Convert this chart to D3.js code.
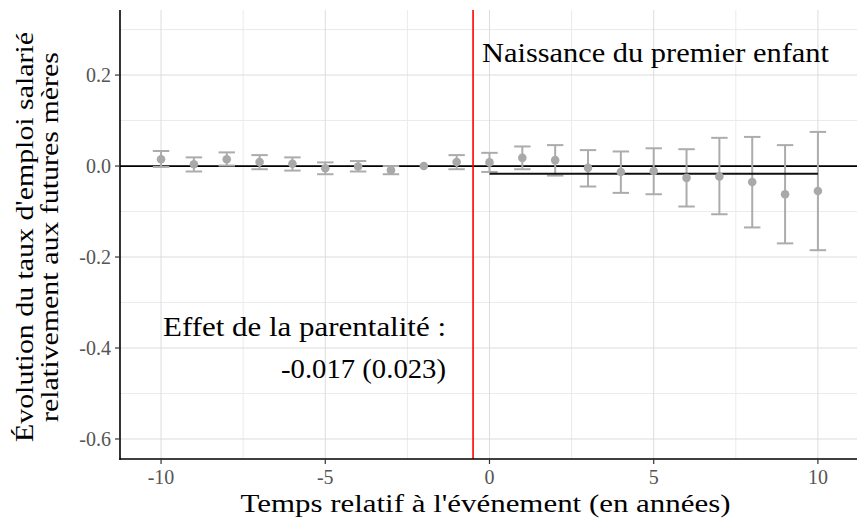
<!DOCTYPE html>
<html><head><meta charset="utf-8">
<script src="https://cdn.jsdelivr.net/npm/d3@7"></script>
<style>body{margin:0;background:#fff}text{font-family:"Liberation Serif",serif}</style>
</head><body>
<svg id="c" width="858" height="519"></svg>
<script>
const years    = [-10, -9, -8, -7, -6, -5, -4, -3, -2, -1, 0, 1, 2, 3, 4, 5, 6, 7, 8, 9, 10];
const estimate = [0.015, 0.004, 0.015, 0.009, 0.005, -0.005, -0.001, -0.009, 0, 0.009, 0.008, 0.018, 0.013, -0.004, -0.013, -0.011, -0.026, -0.023, -0.035, -0.062, -0.055];
const upperCI  = [0.033, 0.019, 0.030, 0.024, 0.019, 0.008, 0.011, 0.000, null, 0.024, 0.029, 0.043, 0.046, 0.035, 0.032, 0.039, 0.037, 0.062, 0.064, 0.046, 0.075];
const lowerCI  = [-0.002, -0.012, 0.001, -0.007, -0.010, -0.018, -0.012, -0.018, null, -0.007, -0.013, -0.007, -0.021, -0.045, -0.059, -0.062, -0.089, -0.106, -0.135, -0.170, -0.185];
const effect = -0.017, effectSE = 0.023;
const eventTime = -0.5;
const xTicks = [-10, -5, 0, 5, 10];
const xMinor = [-7.5, -2.5, 2.5, 7.5];
const yTicks = [0.2, 0, -0.2, -0.4, -0.6];
const yMinor = [0.3, 0.1, -0.1, -0.3, -0.5];

const svg = d3.select("#c");
const L = 120, R = 857, T = 10, B = 459;
const x = d3.scaleLinear().domain([-11.25, 11.19]).range([L, R]);
const y = d3.scaleLinear().domain([-0.644, 0.343]).range([B, T]);
const fmt = v => String(v).replace("\u2212", "-");

const g = svg.append("g");
g.selectAll(".gxm").data(xMinor).join("line").attr("x1", d => x(d)).attr("x2", d => x(d)).attr("y1", T).attr("y2", B).attr("stroke", "#ebebeb").attr("stroke-width", 1);
g.selectAll(".gym").data(yMinor).join("line").attr("y1", d => y(d)).attr("y2", d => y(d)).attr("x1", L).attr("x2", R).attr("stroke", "#ebebeb").attr("stroke-width", 1);
g.selectAll(".gx").data(xTicks).join("line").attr("x1", d => x(d)).attr("x2", d => x(d)).attr("y1", T).attr("y2", B).attr("stroke", "#dcdcdc").attr("stroke-width", 1);
g.selectAll(".gy").data(yTicks).join("line").attr("y1", d => y(d)).attr("y2", d => y(d)).attr("x1", L).attr("x2", R).attr("stroke", "#dcdcdc").attr("stroke-width", 1);

g.append("line").attr("x1", L).attr("x2", R).attr("y1", y(0)).attr("y2", y(0)).attr("stroke", "#000").attr("stroke-width", 1.8);

const data = years.map((yr, i) => ({yr, e: estimate[i], lo: lowerCI[i], hi: upperCI[i]}));
const eb = data.filter(d => d.lo !== null);
const col = "#acacac";
const cw = 0.25;
g.selectAll(".ebv").data(eb).join("line").attr("x1", d => x(d.yr)).attr("x2", d => x(d.yr)).attr("y1", d => y(d.lo)).attr("y2", d => y(d.hi)).attr("stroke", col).attr("stroke-width", 2);
g.selectAll(".ebt").data(eb).join("line").attr("x1", d => x(d.yr - cw)).attr("x2", d => x(d.yr + cw)).attr("y1", d => y(d.hi)).attr("y2", d => y(d.hi)).attr("stroke", col).attr("stroke-width", 2);
g.selectAll(".ebb").data(eb).join("line").attr("x1", d => x(d.yr - cw)).attr("x2", d => x(d.yr + cw)).attr("y1", d => y(d.lo)).attr("y2", d => y(d.lo)).attr("stroke", col).attr("stroke-width", 2);

g.append("line").attr("x1", x(0)).attr("x2", x(10)).attr("y1", y(effect)).attr("y2", y(effect)).attr("stroke", "#111").attr("stroke-width", 1.8);

g.selectAll(".pt").data(data).join("circle").attr("cx", d => x(d.yr)).attr("cy", d => y(d.e)).attr("r", 4.3).attr("fill", "#a9a9a9");

g.append("line").attr("x1", x(eventTime)).attr("x2", x(eventTime)).attr("y1", T).attr("y2", B).attr("stroke", "#ff0000").attr("stroke-width", 1.6);

svg.append("line").attr("x1", L).attr("x2", L).attr("y1", T).attr("y2", B + 0.8).attr("stroke", "#000").attr("stroke-width", 1.6);
svg.append("line").attr("x1", L - 0.8).attr("x2", R).attr("y1", B).attr("y2", B).attr("stroke", "#000").attr("stroke-width", 1.6);
svg.selectAll(".ytk").data(yTicks).join("line").attr("x1", L - 5).attr("x2", L).attr("y1", d => y(d)).attr("y2", d => y(d)).attr("stroke", "#333").attr("stroke-width", 1.2);
svg.selectAll(".xtk").data(xTicks).join("line").attr("y1", B).attr("y2", B + 5).attr("x1", d => x(d)).attr("x2", d => x(d)).attr("stroke", "#333").attr("stroke-width", 1.2);

svg.selectAll(".ytl").data(yTicks).join("text").attr("x", L - 9).attr("y", d => y(d)).attr("dy", "0.35em").attr("text-anchor", "end").attr("font-size", 20).attr("fill", "#555").text(d => fmt(d3.format(".1f")(d)));
svg.selectAll(".xtl").data(xTicks).join("text").attr("x", d => x(d)).attr("y", 484).attr("text-anchor", "middle").attr("font-size", 20).attr("fill", "#555").text(d => fmt(d));

function txt(xp, yp, anchor, size, len, s) {
  return svg.append("text").attr("x", xp).attr("y", yp).attr("text-anchor", anchor).attr("font-size", size)
    .attr("fill", "#000").attr("textLength", len).attr("lengthAdjust", "spacingAndGlyphs").text(s);
}
txt((L + R) / 2 - 3, 512, "middle", 25, 490, "Temps relatif à l'événement (en années)");
const yt = svg.append("text").attr("transform", `translate(0,237) rotate(-90)`).attr("text-anchor", "middle").attr("font-size", 25).attr("fill", "#000");
yt.append("tspan").attr("x", 0).attr("y", 33).attr("textLength", 410).attr("lengthAdjust", "spacingAndGlyphs").text("Évolution du taux d'emploi salarié");
yt.append("tspan").attr("x", 0).attr("y", 58).attr("textLength", 370).attr("lengthAdjust", "spacingAndGlyphs").text("relativement aux futures mères");

txt(482, 62, "start", 27, 347, "Naissance du premier enfant");
txt(446, 336, "end", 27, 283, "Effet de la parentalité :");
txt(446, 378, "end", 27, 165, `${effect.toFixed(3)} (${effectSE.toFixed(3)})`);
</script>
</body></html>
